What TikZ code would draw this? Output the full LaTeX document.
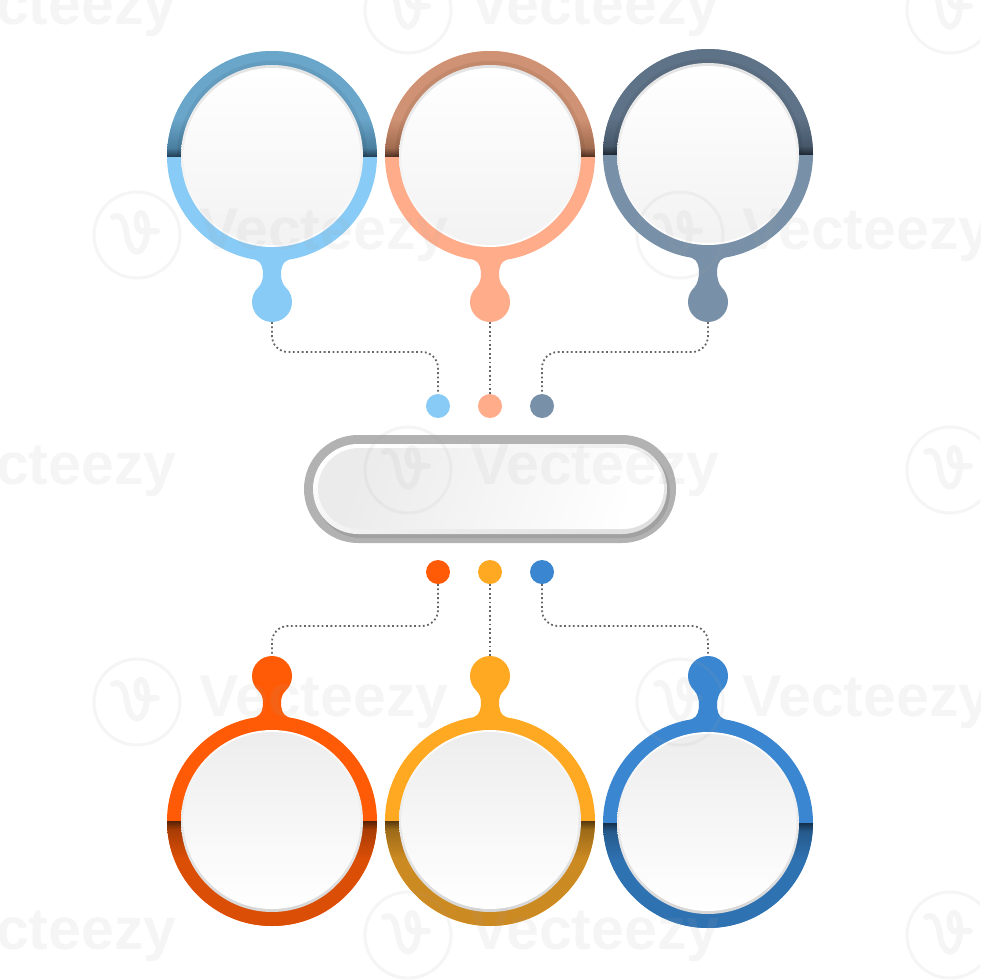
\documentclass[tikz,border=0pt]{standalone}
\usepackage{fontspec}
\setmainfont{Liberation Sans}
\definecolor{skyB}{HTML}{88CBF6}\definecolor{skyU}{HTML}{6AA6CA}\definecolor{skyM}{HTML}{4A7FA0}\definecolor{skyD}{HTML}{24425A}
\definecolor{salB}{HTML}{FFAC8A}\definecolor{salU}{HTML}{D09274}\definecolor{salM}{HTML}{A26C50}\definecolor{salD}{HTML}{553424}
\definecolor{slaB}{HTML}{7890A8}\definecolor{slaU}{HTML}{5F7388}\definecolor{slaM}{HTML}{47586A}\definecolor{slaD}{HTML}{222C38}
\definecolor{oraB}{HTML}{FF5A05}\definecolor{oraU}{HTML}{DB4E06}\definecolor{oraM}{HTML}{A83C05}\definecolor{oraD}{HTML}{562105}
\definecolor{ambB}{HTML}{FFA821}\definecolor{ambU}{HTML}{CC8A22}\definecolor{ambM}{HTML}{9C6A18}\definecolor{ambD}{HTML}{56390C}
\definecolor{bluB}{HTML}{3A86D0}\definecolor{bluU}{HTML}{2F72B2}\definecolor{bluM}{HTML}{265A8C}\definecolor{bluD}{HTML}{14304C}
\definecolor{dotG}{HTML}{666666}
\newcommand{\mkup}[1]{\pgfdeclareverticalshading{#1S}{100bp}{color(0bp)=(#1U); color(50bp)=(#1D); color(52bp)=(#1M); color(59bp)=(#1U); color(100bp)=(#1U)}}
\newcommand{\mkdn}[1]{\pgfdeclareverticalshading{#1S}{100bp}{color(0bp)=(#1U); color(41bp)=(#1U); color(48bp)=(#1M); color(50bp)=(#1D); color(100bp)=(#1D)}}
\mkup{sky}\mkup{sal}\mkup{sla}\mkdn{ora}\mkdn{amb}\mkdn{blu}
\tikzset{
  bulbnode/.style={circle,inner sep=0pt,minimum size=40pt,line width=0pt},
  smalldot/.style={circle,inner sep=0pt,minimum size=24pt,line width=0pt},
  link/.style={dotG,line width=1.8pt,dash pattern=on 1.8pt off 2.6pt,rounded corners=16pt},
  wmark/.style={gray!70,opacity=.1},
}
% #1 name, #2 cx, #3 cy, #4 dir, #5 bulb offset, #6 colour prefix
\newcommand{\ringunit}[6]{%
  \begin{scope}[shift={(#2,#3)},yscale=#4]
    \fill[#6B] (-24,98) -- (-16,104) .. controls (-10,106) and (-9,113) .. (-9,119)
      .. controls (-9,123.5) and (-11,{#5-17}) .. (-13.5,{#5-15}) -- (13.5,{#5-15})
      .. controls (11,{#5-17}) and (9,123.5) .. (9,119) .. controls (9,113) and (10,106) .. (16,104) -- (24,98) -- cycle;
  \end{scope}
  \node[bulbnode,fill=#6B] (#1b) at (#2,{#3+#4*#5}) {};
  \fill[#6B] (#2,#3) circle (105);
  \begin{scope}
    \clip (#2+110,#3) rectangle (#2-110,{#3-#4*110});
    \shade[shading=#6S] (#2,#3) circle (105);
    \ifnum#4=1
      \draw[black,opacity=.06,line width=4pt] (#2,#3) circle (93);
    \fi
  \end{scope}
  \ifnum#4=1
    \shade[top color=gray!22,bottom color=white] (#2,#3) circle (91);
    \shade[top color=white,bottom color=black!5] (#2,{#3+.5}) circle (88.5);
  \else
    \shade[top color=white,bottom color=gray!32] (#2,#3) circle (91);
    \shade[top color=black!7,bottom color=white] (#2,{#3-.5}) circle (88.5);
  \fi
}
\newcommand{\wmk}[2]{%
  \begin{scope}[shift={(#1,#2)}]
    \draw[wmark,line width=3pt] (0,0) circle (43);
    \draw[wmark,line width=6pt,line cap=round,line join=round]
      (-24,-18) .. controls (-16,-22) and (-12,-14) .. (-10,0)
      .. controls (-8,16) and (2,24) .. (8,8) .. controls (12,-4) and (10,-22) .. (4,-22)
      .. controls (-2,-22) and (-2,-6) .. (4,-4) -- (20,-4);
  \end{scope}
  \node[wmark,anchor=west,inner sep=0pt,font=\bfseries\fontsize{59}{59}\selectfont] (wm#1x#2) at (#1+62,#2) {Vecteezy};
}
\begin{document}
\begin{tikzpicture}[x=1pt,y=-1pt]
\path[use as bounding box,fill=white] (0,0) rectangle (980,980);
\clip (0,0) rectangle (980,980);
% rings
\ringunit{a}{272}{156}{1}{146}{sky}
\ringunit{b}{490}{156}{1}{146}{sal}
\ringunit{c}{708}{154}{1}{148}{sla}
\ringunit{d}{272}{821}{-1}{145}{ora}
\ringunit{e}{490}{821}{-1}{145}{amb}
\ringunit{f}{708}{823}{-1}{147}{blu}
% hub dots
\node[smalldot,fill=skyB] (p1) at (438,406) {};
\node[smalldot,fill=salB] (p2) at (490,406) {};
\node[smalldot,fill=slaB] (p3) at (542,406) {};
\node[smalldot,fill=oraB] (q1) at (438,572) {};
\node[smalldot,fill=ambB] (q2) at (490,572) {};
\node[smalldot,fill=bluB] (q3) at (542,572) {};
% central pill
\node[rectangle,rounded corners=54pt,minimum width=372pt,minimum height=108pt,inner sep=0pt,fill=black!30] (hub) at (490,489) {};
\fill[black!37,rounded corners=46pt] (315,446) rectangle (670,538);
\shade[left color=white,right color=black!12,shading angle=20,rounded corners=45pt] (313,444) rectangle (667,534);
\shade[left color=black!8,right color=white,shading angle=70,rounded corners=41pt] (318,448) rectangle (664,529);
% connectors
\coordinate (upy) at (0,352);
\coordinate (dny) at (0,626);
\draw[link] (ab.south) -- (ab.south |- upy) -- (p1.north |- upy) -- (p1.north);
\draw[link] (bb.south) -- (p2.north);
\draw[link] (cb.south) -- (cb.south |- upy) -- (p3.north |- upy) -- (p3.north);
\draw[link] (q1.south) -- (q1.south |- dny) -- (db.north |- dny) -- (db.north);
\draw[link] (q2.south) -- (eb.north);
\draw[link] (q3.south) -- (q3.south |- dny) -- (fb.north |- dny) -- (fb.north);
% watermark
\wmk{-135}{10}\wmk{408}{10}\wmk{950}{10}
\wmk{137}{235}\wmk{680}{235}
\wmk{-135}{470}\wmk{408}{470}\wmk{950}{470}
\wmk{137}{702}\wmk{680}{702}
\wmk{-135}{935}\wmk{408}{935}\wmk{950}{935}
\end{tikzpicture}
\end{document}
